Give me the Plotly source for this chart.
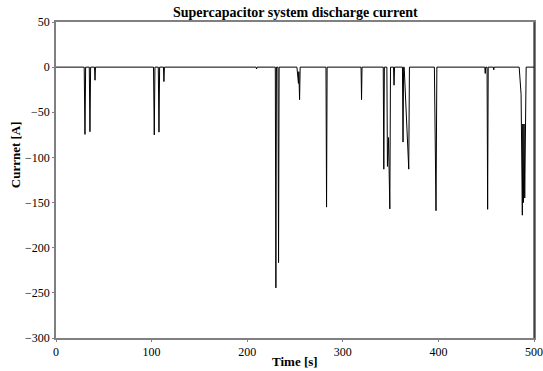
import plotly.graph_objects as go

# Time [s] and current [A]
time_s = [0, 29.5, 30.3, 31.0, 34.8, 35.5, 36.2, 40.3, 40.8, 41.3,
          102.0, 102.8, 103.5, 107.0, 107.7, 108.4, 112.4, 112.9, 113.4,
          209.3, 209.8, 210.3, 229.4, 230.0, 230.6, 232.2, 232.8, 233.4,
          252.0, 253.6, 254.0, 254.8, 255.4, 282.4, 283.0, 283.6,
          319.1, 319.6, 320.1, 342.3, 342.9, 343.5, 346.1, 346.7, 347.8, 349.2, 349.9,
          353.1, 353.6, 354.1, 362.4, 363.0, 363.6, 364.2, 369.0, 369.7,
          395.8, 397.0, 397.5, 398.4, 448.5, 449.0, 449.5, 450.9, 451.5, 452.1,
          457.5, 457.9, 458.3, 484.5, 486.5, 487.8, 488.3, 489.0, 489.6, 490.3, 491.8, 500]
current_a = [0, 0, -74.5, 0, 0, -71.5, 0, 0, -14.5, 0,
             0, -75, 0, 0, -72, 0, 0, -16, 0,
             0, -2, 0, 0, -244.5, 0, 0, -216.5, 0,
             0, -18, -5, -36, 0, 0, -155, 0,
             0, -36, 0, 0, -113, 0, 0, -110, -78, -157, 0,
             0, -20, 0, 0, -83, 0, 0, -113, 0,
             0, -156, -159, 0, 0, -7, 0, 0, -157.5, 0,
             0, -3, 0, 0, -30, -164, -63, -150, -63, -145, 0, 0]

x_ticks = [0, 100, 200, 300, 400, 500]
y_ticks = [50, 0, -50, -100, -150, -200, -250, -300]

title_text = "Supercapacitor system discharge current"
x_title = "Time [s]"
y_title = "Currnet [A]"

FONT = "Liberation Serif"

fig = go.Figure()
fig.add_trace(go.Scatter(x=time_s, y=current_a, mode="lines",
                         line=dict(color="black", width=1), showlegend=False))

fig.update_layout(
    width=543, height=371,
    margin=dict(l=56, r=9, t=22, b=33),
    paper_bgcolor="white", plot_bgcolor="white",
    font=dict(family=FONT, size=12, color="black"),
    xaxis=dict(range=[0, 500], tickvals=x_ticks, ticks="outside", ticklen=2,
               tickcolor="#808080", showgrid=False, zeroline=False, automargin=False,
               showline=True, linecolor="#808080", linewidth=1.5, mirror=True,
               tickfont=dict(family=FONT, size=12)),
    yaxis=dict(range=[-300, 50], tickvals=y_ticks, ticks="outside", ticklen=2,
               tickcolor="#808080", showgrid=False, zeroline=False, automargin=False,
               showline=True, linecolor="#808080", linewidth=1.5, mirror=True,
               tickfont=dict(family=FONT, size=12)),
    annotations=[
        dict(text="<b>" + title_text + "</b>", xref="paper", yref="paper",
             x=0.5, y=1, yanchor="bottom", xanchor="center", showarrow=False,
             yshift=0, font=dict(family=FONT, size=14)),
        dict(text="<b>" + x_title + "</b>", xref="paper", yref="paper",
             x=0.5, y=0, yanchor="top", xanchor="center", showarrow=False,
             yshift=-14, font=dict(family=FONT, size=13)),
        dict(text="<b>" + y_title + "</b>", xref="paper", yref="paper",
             x=0, y=0.58, xanchor="right", yanchor="middle", textangle=-90,
             showarrow=False, xshift=-31, font=dict(family=FONT, size=13)),
    ],
    shapes=[dict(type="line", xref="paper", yref="paper", x0=1, x1=1, y0=0, y1=1,
                 line=dict(color="black", width=1))],
)

fig.write_html("out.html")
